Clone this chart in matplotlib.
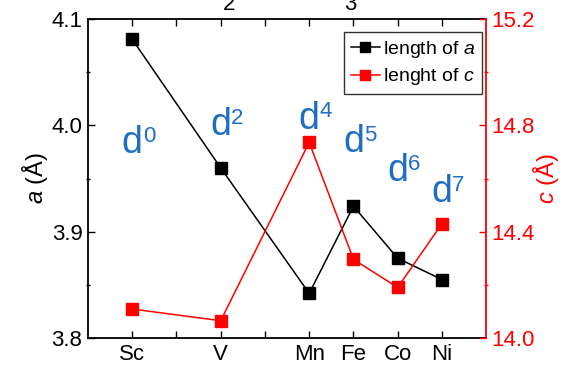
import numpy as np
import matplotlib
matplotlib.use("Agg")
import matplotlib.pyplot as plt
from matplotlib.ticker import MultipleLocator

plt.rcParams['font.family'] = ['Liberation Sans', 'DejaVu Sans']
plt.rcParams['mathtext.fontset'] = 'custom'
plt.rcParams['mathtext.rm'] = 'Liberation Sans'
plt.rcParams['mathtext.it'] = 'Liberation Sans:italic'

# data
elements = ['Sc', 'V', 'Mn', 'Fe', 'Co', 'Ni']
d_count = [0, 2, 4, 5, 6, 7]
a_len = [4.081, 3.960, 3.842, 3.924, 3.875, 3.855]
c_len = [14.109, 14.065, 14.736, 14.296, 14.19, 14.43]
# where the d^n labels sit (baseline, in a-axis units)
d_label_y = [3.974, 3.991, 3.997, 3.975, 3.948, 3.928]

blue = '#1f6fc1'

fig = plt.figure(figsize=(5.64, 3.70), dpi=100)
ax = fig.add_axes([0.156, 0.0865, 0.706, 0.862])
ax2 = ax.twinx()

ax.plot(d_count, a_len, color='black', lw=1.1, marker='s', ms=9,
        label='length of $a$')
ax2.plot(d_count, c_len, color='red', lw=1.1, marker='s', ms=9,
         label='lenght of $c$')

ax.set_xlim(-1, 8)
ax.set_ylim(3.8, 4.1)
ax2.set_ylim(14.0, 15.2)

# x ticks at every integer, names only where there is an element
ax.set_xticks(range(0, 8))
xlabels = [''] * 8
for n, el in zip(d_count, elements):
    xlabels[n] = el
ax.set_xticklabels(xlabels)

ax.set_yticks([3.8, 3.9, 4.0, 4.1])
ax.yaxis.set_minor_locator(MultipleLocator(0.05))
ax2.set_yticks([14.0, 14.4, 14.8, 15.2])
ax2.yaxis.set_minor_locator(MultipleLocator(0.2))

ax.tick_params(axis='x', which='major', direction='in', length=5, width=1,
               top=True, labelsize=16, pad=4)
ax.tick_params(axis='y', which='major', direction='in', length=5, width=1,
               labelsize=16, pad=4)
ax.tick_params(axis='y', which='minor', direction='inout', length=3, width=1)
ax2.tick_params(axis='y', which='major', direction='in', length=5, width=1,
                labelsize=16, pad=4, colors='red')
ax2.tick_params(axis='y', which='minor', direction='inout', length=3, width=1,
                colors='red')

for s in ax.spines.values():
    s.set_linewidth(1.3)
ax.spines['right'].set_visible(False)
for name in ['left', 'top', 'bottom']:
    ax2.spines[name].set_visible(False)
ax2.spines['right'].set_color('red')
ax2.spines['right'].set_linewidth(1.3)

ax.set_ylabel('$a$ (Å)', fontsize=17)
ax2.set_ylabel('$c$ (Å)', fontsize=17, color='red')
ax.yaxis.set_label_coords(-0.095, 0.5)
ax2.yaxis.set_label_coords(1.113, 0.5)

# d-electron labels
for n, yb in zip(d_count, d_label_y):
    ax.text(n, yb, 'd', color=blue, fontsize=27, ha='center', va='baseline')
    ax.annotate(str(n), xy=(n, yb), xytext=(7.5, 8), textcoords='offset points',
                color=blue, fontsize=16, ha='left', va='baseline')

h1, l1 = ax.get_legend_handles_labels()
h2, l2 = ax2.get_legend_handles_labels()
leg = ax2.legend(h1 + h2, l1 + l2, loc='upper right',
                 bbox_to_anchor=(0.99, 0.96), fontsize=14, frameon=True,
                 fancybox=False, edgecolor='black', handlelength=1.5,
                 handletextpad=0.15, borderpad=0.35, labelspacing=0.35,
                 borderaxespad=0, numpoints=1, markerscale=0.75)
leg.get_frame().set_linewidth(1.0)
leg.set_zorder(10)

# bits of the cropped title above the plot
fig.text(229 / 564, 0.973, '2', fontsize=16, ha='center', va='baseline')
fig.text(350 / 564, 0.973, '3', fontsize=16, ha='center', va='baseline')

fig.savefig('out.png', dpi=100)
